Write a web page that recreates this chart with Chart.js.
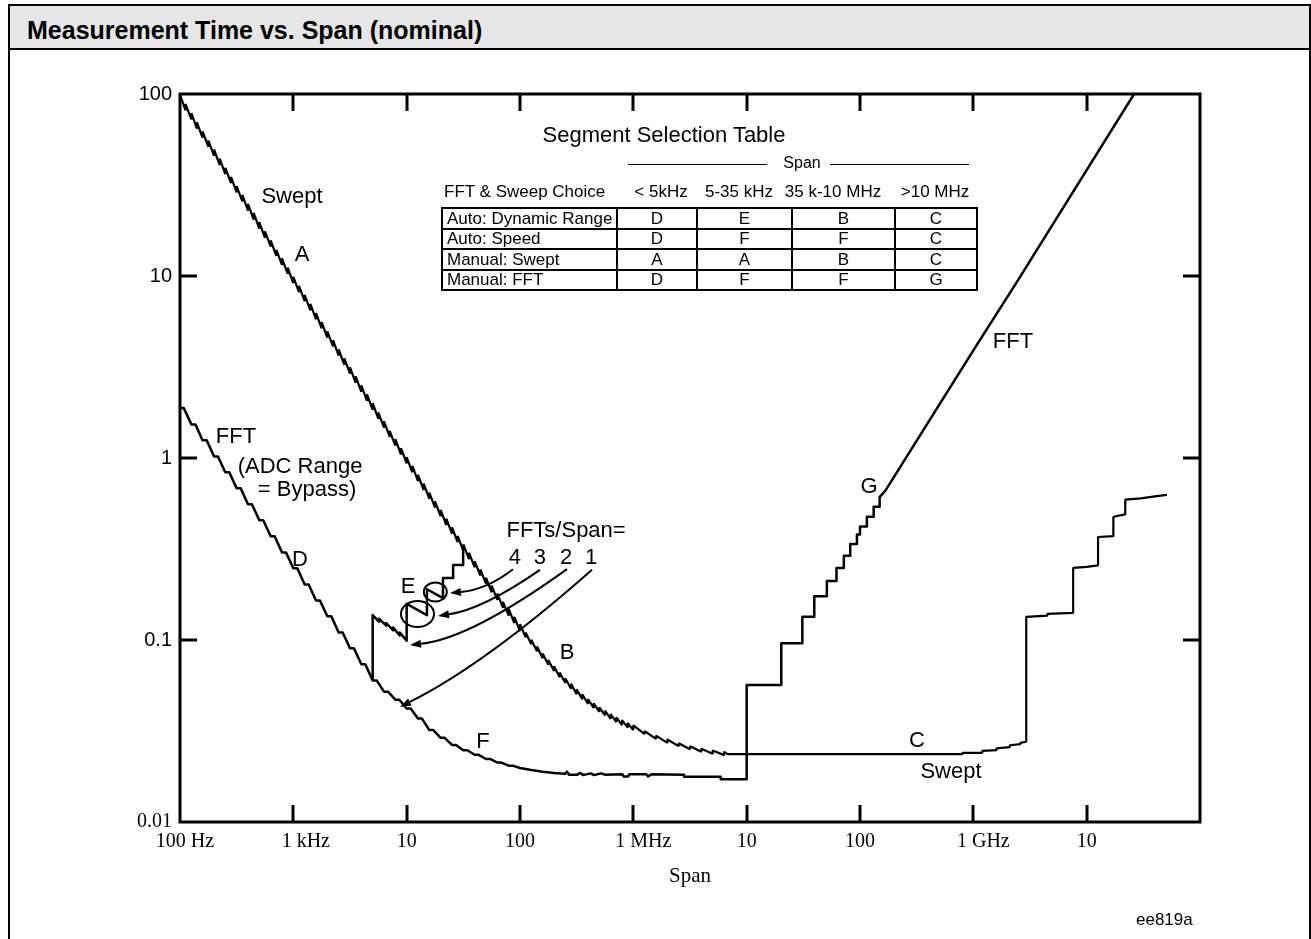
<!DOCTYPE html>
<html lang="en">
<head>
<meta charset="UTF-8">
<title>Measurement Time vs. Span (nominal)</title>
<script src="https://cdn.jsdelivr.net/npm/chart.js"></script>
<style>
  html, body { margin: 0; padding: 0; background: #fff; }
  body { position: relative; width: 1311px; height: 939px; overflow: hidden; color: #000;
         font-family: "Liberation Sans", Arial, Helvetica, sans-serif; }
  #frame { position: absolute; left: 8px; top: 4px; width: 1303px; height: 960px; box-sizing: border-box;
           border-left: 2px solid #000; border-top: 2px solid #000; border-right: 2px solid #000; }
  #head { position: absolute; left: 0; top: 0; right: 0; height: 42px; background: #e6e6e6; border-bottom: 2px solid #000; }
  #head h1 { margin: 0; padding: 3px 0 0 17px; font-size: 25px; line-height: 42px; font-weight: bold; }
  #plot { position: absolute; left: 0; top: 50px; }
  .abs { position: absolute; white-space: nowrap; z-index: 2; }
  #segTitle { left: 504px; width: 320px; top: 122px; text-align: center; font-size: 22px; line-height: 26px; }
  .rule { position: absolute; height: 0; border-top: 1.5px solid #000; top: 164px; z-index: 2; }
  #spanHdr { left: 772px; width: 60px; top: 154px; text-align: center; font-size: 16px; line-height: 18px; }
  .hdr { top: 182px; font-size: 17px; line-height: 20px; }
  #seg { position: absolute; left: 441px; top: 207px; width: 535px; border-collapse: collapse; table-layout: fixed;
         z-index: 2; font-size: 17px; }
  #seg td { border: 2px solid #000; padding: 0; height: 18.5px; line-height: 17px; text-align: center; white-space: nowrap; overflow: hidden; }
  #seg td:first-child { text-align: left; padding-left: 4px; }
  #tag { left: 1136px; top: 910px; font-size: 17px; line-height: 20px; }
</style>
</head>
<body>
<div id="frame"><div id="head"><h1>Measurement Time vs. Span (nominal)</h1></div></div>
<canvas id="plot" width="1311" height="889"></canvas>
<div id="segTitle" class="abs">Segment Selection Table</div>
<div class="rule" style="left:628px;width:139px"></div>
<div id="spanHdr" class="abs">Span</div>
<div class="rule" style="left:830px;width:139px"></div>
<table id="seg"></table>
<div id="tag" class="abs">ee819a</div>
<script>
// axes
const xTickValues = [1e2, 1e3, 1e4, 1e5, 1e6, 1e7, 1e8, 1e9, 1e10];
const xTickLabels = ['100 Hz', '1 kHz', '10', '100', '1 MHz', '10', '100', '1 GHz', '10'];
const yTickValues = [0.01, 0.1, 1, 10, 100];
const yTickLabels = ['0.01', '0.1', '1', '10', '100'];

// Swept, segments A and B: sawtooth, one tooth per span value (top and bottom of each tooth, s)
const sweptToothSpan = [
  100, 112, 126, 141, 158, 178, 200, 224, 251, 282,
  316, 355, 398, 447, 501, 562, 631, 708, 794, 891,
  1000, 1122, 1259, 1413, 1585, 1778, 1995, 2239, 2512, 2818,
  3162, 3548, 3981, 4467, 5012, 5623, 6310, 7079, 7943, 8913,
  10000, 11220, 12589, 14125, 15849, 17783, 19953, 22387, 25119, 28184,
  31623, 35481, 39811, 44668, 50119, 56234, 63096, 70795, 79433, 89125,
  100000, 112202, 125893, 141254, 158489, 177828, 199526, 223872, 251189, 281838,
  316228, 354813, 398107, 446684, 501187, 562341, 630957, 707946, 794328, 891251,
  1000000, 1258925, 1584893, 1995262, 2511886, 3162278, 3981072, 5011872, 6309573
];
const sweptToothHigh = [
  98.8, 88.1, 78.5, 69.9, 62.3, 55.5, 49.5, 44.1, 39.3, 35.0,
  31.2, 27.9, 24.9, 22.2, 19.8, 17.6, 15.7, 13.9, 12.5, 11.1,
  9.90, 8.83, 7.87, 7.02, 6.26, 5.58, 4.97, 4.44, 3.95, 3.53,
  3.15, 2.81, 2.51, 2.24, 2.00, 1.78, 1.59, 1.41, 1.27, 1.132,
  1.011, 0.904, 0.808, 0.723, 0.646, 0.578, 0.518, 0.464, 0.416, 0.373,
  0.335, 0.302, 0.271, 0.244, 0.220, 0.199, 0.180, 0.162, 0.148, 0.134,
  0.122, 0.110, 0.1004, 0.0920, 0.0844, 0.0777, 0.0717, 0.0663, 0.0616, 0.0574,
  0.0536, 0.0503, 0.0473, 0.0449, 0.0427, 0.0409, 0.0391, 0.0376, 0.0363, 0.0350,
  0.0340, 0.0316, 0.0298, 0.0284, 0.0271, 0.0261, 0.0253, 0.0247, 0.0243
];
const sweptToothLow = [
  91.2, 81.3, 72.5, 64.5, 57.5, 51.3, 45.7, 40.7, 36.3, 32.4,
  28.8, 25.7, 22.9, 20.4, 18.2, 16.2, 14.5, 12.9, 11.5, 10.3,
  9.14, 8.15, 7.27, 6.48, 5.78, 5.16, 4.59, 4.10, 3.65, 3.25,
  2.91, 2.59, 2.31, 2.06, 1.84, 1.64, 1.47, 1.31, 1.17, 1.044,
  0.933, 0.834, 0.746, 0.667, 0.596, 0.534, 0.478, 0.428, 0.384, 0.345,
  0.309, 0.278, 0.251, 0.226, 0.204, 0.183, 0.166, 0.150, 0.136, 0.124,
  0.112, 0.1035, 0.0946, 0.0866, 0.0794, 0.0731, 0.0675, 0.0625, 0.0580, 0.0540,
  0.0504, 0.0473, 0.0445, 0.0423, 0.0403, 0.0385, 0.0369, 0.0354, 0.0341, 0.0330,
  0.0320, 0.0304, 0.0286, 0.0272, 0.0261, 0.0251, 0.0243, 0.0237, 0.0233
];
// Swept, segment C
const sweptTailSpan = [
  6.8e6, 8.0e8, 8.0e8, 1.2e9, 1.2e9, 1.6e9, 1.6e9, 2.1e9, 2.1e9, 2.6e9,
  2.6e9, 2.93e9, 2.93e9, 4.5e9, 4.5e9, 7.6e9, 7.6e9, 1.0e10, 1.26e10, 1.26e10,
  1.72e10, 1.72e10, 1.85e10, 2.19e10, 2.19e10, 3.0e10, 4.0e10, 5.1e10
];
const sweptTailTime = [
  0.0236, 0.0236, 0.0240, 0.0240, 0.0246, 0.0248, 0.0254, 0.0258, 0.0264, 0.0268,
  0.0272, 0.0276, 0.134, 0.136, 0.139, 0.141, 0.249, 0.252, 0.257, 0.368,
  0.372, 0.474, 0.48, 0.49, 0.59, 0.60, 0.615, 0.627
];

// FFT, segment D (1 FFT per span)
const fftDSpan = [
  100, 108, 126, 137, 158, 172, 200, 216, 251, 272,
  316, 343, 398, 431, 501, 543, 631, 684, 794, 861,
  1000, 1084, 1259, 1365, 1585, 1718, 1995, 2163, 2512, 2723,
  3162, 3428, 3981, 4315, 5012
];
const fftDTime = [
  1.88, 1.88, 1.53, 1.53, 1.25, 1.25, 1.02, 1.02, 0.836, 0.836,
  0.682, 0.682, 0.557, 0.557, 0.455, 0.455, 0.372, 0.372, 0.303, 0.303,
  0.248, 0.248, 0.202, 0.202, 0.165, 0.165, 0.135, 0.135, 0.110, 0.110,
  0.090, 0.090, 0.0735, 0.0735, 0.060
];
// FFT, segment F
const fftFSpan = [
  5433, 6310, 6840, 7943, 8610, 10000, 10840, 12590, 13650, 15850,
  17180, 19950, 21630, 25120, 27230, 31620, 34280, 39810, 43150, 50120,
  54330, 63100, 68400, 79430, 86100, 100000, 125900, 158500, 199500, 250000,
  260000, 270000, 320000, 340000, 360000, 420000, 450000, 520000, 560000, 800000,
  820000, 900000, 920000, 1300000, 1350000, 1450000, 2800000, 2800000, 5900000, 5900000
];
const fftFTime = [
  0.060, 0.052, 0.052, 0.047, 0.047, 0.042, 0.042, 0.037, 0.037, 0.032,
  0.032, 0.029, 0.029, 0.0265, 0.0265, 0.0248, 0.0248, 0.0234, 0.0234, 0.0222,
  0.0222, 0.0212, 0.0212, 0.0204, 0.0204, 0.0198, 0.0193, 0.0189, 0.0186, 0.0184,
  0.0189, 0.0182, 0.0182, 0.0186, 0.0181, 0.0185, 0.0181, 0.0185, 0.0182, 0.0183,
  0.0178, 0.0178, 0.0183, 0.0183, 0.0178, 0.0183, 0.0182, 0.0177, 0.0177, 0.0172
];
// FFT, segment G
const fftGSpan = [
  1e7, 1e7, 2.02e7, 2.02e7, 3.1e7, 3.1e7, 3.95e7, 3.95e7, 5.1e7, 5.1e7,
  6.2e7, 6.2e7, 7.2e7, 7.2e7, 8.2e7, 8.2e7, 9.4e7, 9.4e7, 1.0e8, 1.0e8,
  1.15e8, 1.15e8, 1.32e8, 1.32e8, 1.49e8, 1.49e8, 1.67e8, 1e9, 2.48e9, 2.62e10
];
const fftGTime = [
  0.0172, 0.0566, 0.0566, 0.096, 0.096, 0.134, 0.134, 0.174, 0.174, 0.211,
  0.211, 0.249, 0.249, 0.29, 0.29, 0.337, 0.337, 0.38, 0.38, 0.42,
  0.42, 0.476, 0.476, 0.54, 0.54, 0.61, 0.66, 3.9, 9.5, 100
];
// FFT, segment E (2, 3, 4 FFTs per span)
const fftESpan = [
  5012, 5012, 5700, 5700, 6600, 6600, 7600, 7600, 8700, 8700,
  10000, 10000, 15100, 15100, 20900, 20900, 25700, 25700, 31500, 31500
];
const fftETime = [
  0.060, 0.137, 0.126, 0.131, 0.120, 0.124, 0.113, 0.117, 0.106, 0.110,
  0.099, 0.158, 0.137, 0.190, 0.170, 0.219, 0.219, 0.258, 0.258, 0.310
];

// selection table
const segHeader = ['FFT & Sweep Choice', '< 5kHz', '5-35 kHz', '35 k-10 MHz', '>10 MHz'];
const segRowNames = ['Auto: Dynamic Range', 'Auto: Speed', 'Manual: Swept', 'Manual: FFT'];
const segCells = [['D', 'E', 'B', 'C'], ['D', 'F', 'F', 'C'], ['A', 'A', 'B', 'C'], ['D', 'F', 'F', 'G']];

// annotations, placed at (span, time)
const noteText = ['Swept', 'A', 'FFT', '(ADC Range', '= Bypass)', 'D', 'E', 'FFTs/Span=', '4', '3', '2', '1', 'B', 'F', 'C', 'Swept', 'G', 'FFT'];
const noteSpan = [973, 1193, 312, 1146, 1320, 1146, 10300, 255000, 90300, 150000, 255000, 424000, 260000, 47200, 3.18e8, 6.35e8, 1.2e8, 2.24e9];
const noteTime = [27.2, 13.0, 1.30, 0.892, 0.667, 0.275, 0.195, 0.397, 0.282, 0.282, 0.282, 0.282, 0.085, 0.0275, 0.0279, 0.0188, 0.693, 4.33];

const SANS = '"Liberation Sans", Arial, Helvetica, sans-serif';
const SERIF = '"Liberation Serif", "Times New Roman", Times, serif';
const TICK = 17;
// the unit labels sit a little right of their tick in the original
const xLabelLead = ['  ', '     ', '', '', '    ', '', '', '    ', ''];

const arrows = [
  { from: [8.67e4, 0.245], ctrl: [5.15e4, 0.190], to: [2.41e4, 0.181] },
  { from: [1.50e5, 0.243], ctrl: [4.75e4, 0.148], to: [1.89e4, 0.1355] },
  { from: [2.60e5, 0.245], ctrl: [3.61e4, 0.1013], to: [1.07e4, 0.094] },
  { from: [4.32e5, 0.243], ctrl: [4.89e4, 0.0733], to: [8.73e3, 0.0429] }
];
const rings = [
  { span: 1.79e4, time: 0.1836, rx: 11.5, ry: 9.5 },
  { span: 1.246e4, time: 0.139, rx: 16.5, ry: 13 }
];

function pts(xs, ys) {
  return xs.map((x, i) => ({ x, y: ys[i] }));
}

// sawtooth: down to the bottom of the next tooth, then straight up
const sweptPoints = [{ x: sweptToothSpan[0], y: sweptToothHigh[0] }];
for (let i = 1; i < sweptToothSpan.length; i++) {
  sweptPoints.push({ x: sweptToothSpan[i], y: sweptToothLow[i] }, { x: sweptToothSpan[i], y: sweptToothHigh[i] });
}
sweptPoints.push(...pts(sweptTailSpan, sweptTailTime));

const fftPoints = [...pts(fftDSpan, fftDTime), ...pts(fftFSpan, fftFTime), ...pts(fftGSpan, fftGTime)];
const ePoints = pts(fftESpan, fftETime);

// table
const seg = document.getElementById('seg');
seg.innerHTML = '<colgroup><col style="width:175px"><col style="width:80px"><col style="width:95px"><col style="width:103px"><col style="width:82px"></colgroup>' +
  segRowNames.map((name, r) => '<tr><td>' + name + '</td>' + segCells[r].map(c => '<td>' + c + '</td>').join('') + '</tr>').join('');
const hdrCenters = [null, 661, 739, 833, 935];
segHeader.forEach((t, i) => {
  const d = document.createElement('div');
  d.className = 'abs hdr';
  d.textContent = t;
  if (i === 0) {
    d.style.left = '444px';
  } else {
    d.style.left = (hdrCenters[i] - 60) + 'px';
    d.style.width = '120px';
    d.style.textAlign = 'center';
  }
  document.body.appendChild(d);
});

const frameAndNotes = {
  id: 'frameAndNotes',
  afterDraw(chart) {
    const { ctx, chartArea: a, scales } = chart;
    const sx = scales.x, sy = scales.y;
    const P = ([s, t]) => [sx.getPixelForValue(s), sy.getPixelForValue(t)];
    ctx.save();
    ctx.strokeStyle = '#000';
    ctx.fillStyle = '#000';

    // box and inward ticks on all four sides
    ctx.lineWidth = 3;
    ctx.strokeRect(a.left, a.top, a.right - a.left, a.bottom - a.top);
    ctx.beginPath();
    xTickValues.slice(1).forEach(v => {
      const p = Math.round(sx.getPixelForValue(v));
      ctx.moveTo(p, a.bottom); ctx.lineTo(p, a.bottom - TICK);
      ctx.moveTo(p, a.top); ctx.lineTo(p, a.top + TICK);
    });
    yTickValues.slice(1, -1).forEach(v => {
      const p = Math.round(sy.getPixelForValue(v));
      ctx.moveTo(a.left, p); ctx.lineTo(a.left + TICK, p);
      ctx.moveTo(a.right, p); ctx.lineTo(a.right - TICK, p);
    });
    ctx.stroke();

    // segment labels
    ctx.font = '22px ' + SANS;
    ctx.textAlign = 'center';
    ctx.textBaseline = 'middle';
    noteText.forEach((t, i) => ctx.fillText(t, sx.getPixelForValue(noteSpan[i]), sy.getPixelForValue(noteTime[i])));

    // circles round the E steps
    ctx.lineWidth = 2;
    rings.forEach(r => {
      const [cx, cy] = P([r.span, r.time]);
      ctx.beginPath();
      ctx.ellipse(cx, cy, r.rx, r.ry, 0, 0, Math.PI * 2);
      ctx.stroke();
    });

    // FFTs/Span arrows
    arrows.forEach(ar => {
      const [x0, y0] = P(ar.from), [cx, cy] = P(ar.ctrl), [x1, y1] = P(ar.to);
      let dx = x1 - cx, dy = y1 - cy;
      const len = Math.hypot(dx, dy);
      dx /= len; dy /= len;
      const bx = x1 - dx * 11, by = y1 - dy * 11;
      ctx.beginPath();
      ctx.moveTo(x0, y0);
      ctx.quadraticCurveTo(cx, cy, bx, by);
      ctx.stroke();
      ctx.beginPath();
      ctx.moveTo(x1, y1);
      ctx.lineTo(bx - dy * 4, by + dx * 4);
      ctx.lineTo(bx + dy * 4, by - dx * 4);
      ctx.closePath();
      ctx.fill();
    });
    ctx.restore();
  }
};

new Chart(document.getElementById('plot'), {
  type: 'line',
  data: {
    datasets: [
      { label: 'Swept', data: sweptPoints, borderWidth: 2.2, borderJoinStyle: 'bevel' },
      { label: 'FFT', data: fftPoints },
      { label: 'FFT E', data: ePoints }
    ]
  },
  options: {
    responsive: false,
    animation: false,
    devicePixelRatio: 1,
    layout: { padding: { top: 44, right: 111, bottom: 0, left: 0 }, autoPadding: false },
    plugins: { legend: { display: false }, tooltip: { enabled: false } },
    elements: {
      point: { radius: 0, hoverRadius: 0 },
      line: { borderColor: '#000', borderWidth: 2.5, tension: 0, fill: false, borderJoinStyle: 'round' }
    },
    scales: {
      x: {
        type: 'logarithmic', position: 'bottom', min: 1e2, max: 1e11,
        grid: { display: false, drawTicks: false }, border: { display: false },
        afterBuildTicks: s => { s.ticks = xTickValues.map(v => ({ value: v })); },
        afterFit: s => { s.height = 117; },
        ticks: {
          autoSkip: false, maxRotation: 0, minRotation: 0, padding: 8, color: '#000',
          font: { family: SERIF, size: 20 },
          callback: (v, i) => xLabelLead[i] + xTickLabels[i]
        },
        title: { display: true, text: 'Span', color: '#000', font: { family: SERIF, size: 21 }, padding: { top: 0, bottom: 50 } }
      },
      y: {
        type: 'logarithmic', position: 'left', min: 0.01, max: 100,
        grid: { display: false, drawTicks: false }, border: { display: false },
        afterBuildTicks: s => { s.ticks = yTickValues.map(v => ({ value: v })); },
        afterFit: s => { s.width = 180; },
        ticks: {
          autoSkip: false, padding: 8, color: '#000',
          font: c => (c.index === 0 ? { family: SERIF, size: 20 } : { family: SANS, size: 20 }),
          callback: (v, i) => yTickLabels[i]
        }
      }
    }
  },
  plugins: [frameAndNotes]
});
</script>
</body>
</html>
